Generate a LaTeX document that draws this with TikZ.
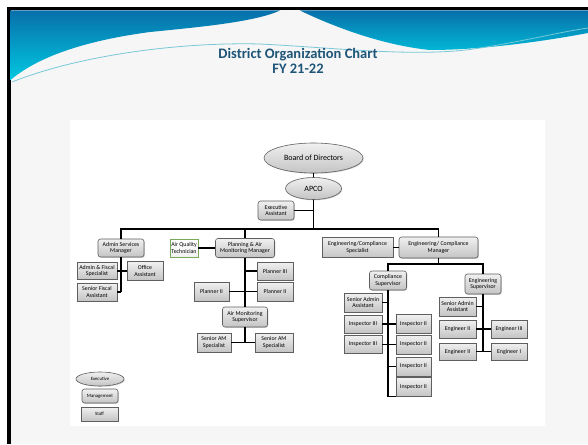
\documentclass[tikz,border=0pt]{standalone}
\usepackage{fontspec}
\setmainfont{Carlito}
\usetikzlibrary{shapes.geometric,shadows}
\definecolor{hdrtop}{RGB}{8,112,170}
\definecolor{hdrbot}{RGB}{0,200,225}
\definecolor{slidebg}{RGB}{246,246,246}
\definecolor{titleblue}{RGB}{30,85,120}
\definecolor{boxtop}{RGB}{240,240,240}
\definecolor{boxbot}{RGB}{196,196,196}
\definecolor{boxline}{RGB}{95,95,95}
\definecolor{aqgreen}{RGB}{120,170,90}
\definecolor{streak}{RGB}{120,200,215}

\tikzset{
  box/.style={draw=boxline, line width=0.6pt, top color=boxtop, bottom color=boxbot,
    align=center, inner sep=0.6pt, font=\fontsize{5.9}{6.8}\selectfont,
    drop shadow={shadow xshift=0.8pt, shadow yshift=-0.8pt, opacity=0.35}},
  staff/.style={box, rectangle},
  mgr/.style={box, rectangle, rounded corners=2.5pt},
  boss/.style={box, ellipse, inner sep=0pt, font=\fontsize{8}{9}\selectfont},
  sz/.style 2 args={minimum width=#1pt, minimum height=#2pt},
  key/.style={font=\fontsize{4.8}{5.5}\selectfont},
  link/.style={line width=1.2pt, black},
  title/.style={font=\bfseries\fontsize{14.5}{16}\selectfont, text=titleblue}
}

\begin{document}
\begin{tikzpicture}[x=1pt,y=-1pt]
  \useasboundingbox (0,0) rectangle (588,444);
  % slide
  \fill[white] (0,0) rectangle (588,444);
  \fill[black] (7,7) rectangle (588,444);
  \fill[slidebg] (10.5,10.5) rectangle (588,444);
  \shade[top color=hdrtop, bottom color=hdrbot] (10.5,10.5) -- (280,10.5)
    .. controls (255,22) and (200,27) .. (150,32)
    .. controls (90,40) and (40,55) .. (10.5,80) -- cycle;
  \shade[top color=hdrtop, bottom color=hdrbot!80!hdrtop] (300,10.5) -- (588,10.5) -- (588,33)
    .. controls (540,42) and (480,50) .. (430,50)
    .. controls (380,45) and (330,25) .. (300,10.5) -- cycle;
  \draw[streak, line width=0.8pt] (12,82) .. controls (80,55) and (180,42) .. (260,44)
    .. controls (340,48) and (420,58) .. (480,48) .. controls (530,40) and (560,32) .. (588,28);
  \node[title] (title) at (298,55) {District Organization Chart};
  \node[title] (fy) at (298,69) {FY 21-22};
  \fill[white] (70,120) rectangle (545,426);

  % top
  \node[boss, sz={99}{30}] (board) at (313.5,158) {Board of Directors};
  \node[boss, sz={56}{22}] (apco) at (313.5,188.5) {APCO};
  \node[mgr, sz={36}{19}] (ea) at (276,210.5) {Executive\\Assistant};

  % second row
  \node[mgr, sz={46}{18}] (asm) at (121,248) {Admin Services\\Manager};
  \node[staff, sz={28}{18}, draw=aqgreen, top color=white, bottom color=boxtop] (aqt) at (184,248) {Air Quality\\Technician};
  \node[mgr, sz={59}{19}] (pamm) at (245,248) {Planning \& Air\\Monitoring Manager};
  \node[staff, sz={71}{20}] (ecs) at (357.5,247.5) {Engineering/Compliance\\Specialist};
  \node[mgr, sz={79}{21}] (ecm) at (438.5,247.5) {Engineering/ Compliance\\Manager};

  % admin
  \node[staff, sz={40}{17}] (afs) at (97,271) {Admin \& Fiscal\\Specialist};
  \node[staff, sz={36}{19}] (oa) at (145,271) {Office\\Assistant};
  \node[staff, sz={40}{18}] (sfa) at (97,292) {Senior Fiscal\\Assistant};

  % planning
  \node[staff, sz={36}{18}] (p3) at (275,271) {Planner III};
  \node[staff, sz={35}{19}] (p2a) at (211.5,291.5) {Planner II};
  \node[staff, sz={36}{19}] (p2b) at (275,291.5) {Planner II};
  \node[mgr, sz={45}{20}] (ams) at (245,317) {Air Monitoring\\Supervisor};
  \node[staff, sz={34}{19}] (sams1) at (214,342.5) {Senior AM\\Specialist};
  \node[staff, sz={38}{19}] (sams2) at (274,342.5) {Senior AM\\Specialist};

  % compliance
  \node[mgr, sz={37}{19}] (csup) at (388,280.5) {Compliance\\Supervisor};
  \node[staff, sz={38}{19}] (saa1) at (363,302.5) {Senior Admin\\Assistant};
  \foreach \n/\y in {i3a/324,i3b/344.5}
    \node[staff, sz={38}{18}] (\n) at (363,\y) {Inspector III};
  \foreach \n/\y in {i2a/324,i2b/344.5,i2c/366.5,i2d/387}
    \node[staff, sz={35}{19}] (\n) at (413.5,\y) {Inspector II};

  % engineering
  \node[mgr, sz={36}{20}] (esup) at (483,284) {Engineering\\Supervisor};
  \node[staff, sz={37}{19}] (saa2) at (457.5,306.5) {Senior Admin\\Assistant};
  \node[staff, sz={37}{18}] (e2a) at (457.5,329) {Engineer II};
  \node[staff, sz={36}{18}] (e3) at (509,329) {Engineer III};
  \node[staff, sz={37}{17}] (e2b) at (457.5,351.5) {Engineer II};
  \node[staff, sz={36}{17}] (e1) at (509,351.5) {Engineer I};

  % legend
  \node[boss, key, sz={48}{14}] (kexec) at (100,379) {Executive};
  \node[mgr, key, sz={36}{14}] (kmgr) at (100,396) {Management};
  \node[staff, key, sz={37}{14}] (kstaff) at (99.5,414) {Staff};

  % lines
  \coordinate (busL) at (121,229);
  \coordinate (busR) at (438.5,229);
  \coordinate (esplit) at (438.5,264);
  \draw[link] (board) -- (apco);
  \draw[link] (apco) -- (apco |- busL);
  \draw[link] (ea) -- (ea -| apco);
  \draw[link] (asm) -- (asm |- busL) -- (busR) -- (ecm);
  \draw[link] (pamm) -- (pamm |- busL);
  \draw[link] (aqt) -- (pamm);
  \draw[link] (ecs) -- (ecm);
  \draw[link] (asm) -- (asm |- sfa);
  \draw[link] (afs) -- (oa);
  \draw[link] (sfa) -- (sfa -| asm);
  \draw[link] (pamm) -- (ams);
  \draw[link] (p3) -- (p3 -| pamm);
  \draw[link] (p2a) -- (p2b);
  \draw[link] (ams) -- (ams |- sams1);
  \draw[link] (sams1) -- (sams2);
  \draw[link] (ecm) -- (esplit);
  \draw[link] (csup) |- (esplit) -| (esup);
  \draw[link] (csup) |- (i2d.south west);
  \draw[link] (saa1) -- (saa1 -| csup);
  \draw[link] (i3a) -- (i2a);
  \draw[link] (i3b) -- (i2b);
  \draw[link] (i2c) -- (i2c -| csup);
  \draw[link] (esup) -- (esup |- e2b);
  \draw[link] (saa2) -- (saa2 -| esup);
  \draw[link] (e2a) -- (e3);
  \draw[link] (e2b) -- (e1);
\end{tikzpicture}
\end{document}
